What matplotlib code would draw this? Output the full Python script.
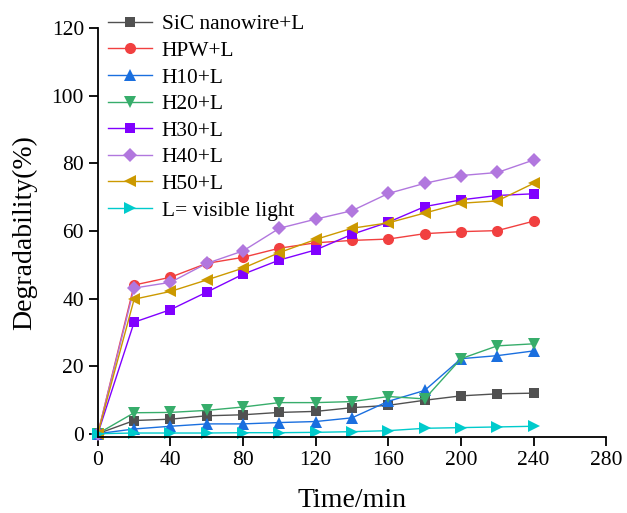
import matplotlib
matplotlib.use("Agg")
import matplotlib.pyplot as plt

plt.rcParams['font.family'] = ['Liberation Serif', 'DejaVu Serif']

time = [0, 20, 40, 60, 80, 100, 120, 140, 160, 180, 200, 220, 240]

sic = [0, 3.9, 4.3, 5.3, 5.6, 6.3, 6.6, 7.7, 8.4, 9.9, 11.2, 11.8, 12.0]
hpw = [0, 44.0, 46.3, 50.4, 52.2, 54.9, 56.5, 57.2, 57.6, 59.2, 59.8, 60.1, 62.9]
h10 = [0, 1.4, 2.2, 2.9, 2.9, 3.3, 3.6, 4.7, 9.6, 12.8, 22.2, 23.1, 24.5]
h20 = [0, 6.2, 6.3, 6.9, 7.9, 9.2, 9.2, 9.5, 11.0, 10.3, 22.2, 26.0, 26.6]
h30 = [0, 33.0, 36.7, 41.9, 47.2, 51.4, 54.4, 59.0, 62.6, 67.2, 69.2, 70.5, 71.0]
h40 = [0, 43.1, 44.8, 50.4, 54.1, 60.8, 63.5, 66.0, 71.1, 74.1, 76.4, 77.3, 81.0]
h50 = [0, 39.8, 42.1, 45.5, 49.0, 53.6, 57.5, 60.8, 62.4, 65.3, 68.2, 68.9, 74.1]
light = [0, 0.2, 0.2, 0.2, 0.3, 0.3, 0.4, 0.6, 0.9, 1.6, 1.8, 2.0, 2.2]

labels = ['SiC nanowire+L', 'HPW+L', 'H10+L', 'H20+L', 'H30+L', 'H40+L', 'H50+L',
          'L= visible light']
series = [sic, hpw, h10, h20, h30, h40, h50, light]
colors = ['#515151', '#F14040', '#1A6FDF', '#37AD6B', '#8000FF', '#B177DE',
          '#CC9900', '#00CBCC']
markers = ['s', 'o', '^', 'v', 's', 'D', '<', '>']
msizes = [7, 8, 8.5, 8.5, 7, 7, 9, 9]

fig = plt.figure(figsize=(6.27, 5.13), dpi=100)
ax = fig.add_axes([0.156, 0.148, 0.811, 0.797])

for y, lab, c, m, ms in zip(series, labels, colors, markers, msizes):
    ax.plot(time, y, color=c, marker=m, markersize=ms, linewidth=1.0,
            markeredgewidth=0, label=lab, clip_on=False)

ax.set_xlim(0, 280)
ax.set_ylim(-1, 120)
ax.set_xticks(range(0, 281, 40))
ax.set_yticks(range(0, 121, 20))
ax.spines['top'].set_visible(False)
ax.spines['right'].set_visible(False)
for s in ['left', 'bottom']:
    ax.spines[s].set_linewidth(1.3)
ax.tick_params(direction='out', length=6.5, width=1.3, labelsize=15.5)

ax.set_xlabel('Time/min', fontsize=20, labelpad=13)
ax.set_ylabel('Degradability(%)', fontsize=20, labelpad=10)

ax.legend(loc='upper left', bbox_to_anchor=(0.172, 0.972), bbox_transform=fig.transFigure,
          frameon=False, fontsize=15.4, handlelength=2.05, handletextpad=0.47,
          labelspacing=0.31, borderaxespad=0, borderpad=0)

fig.savefig('out.png', dpi=100)
